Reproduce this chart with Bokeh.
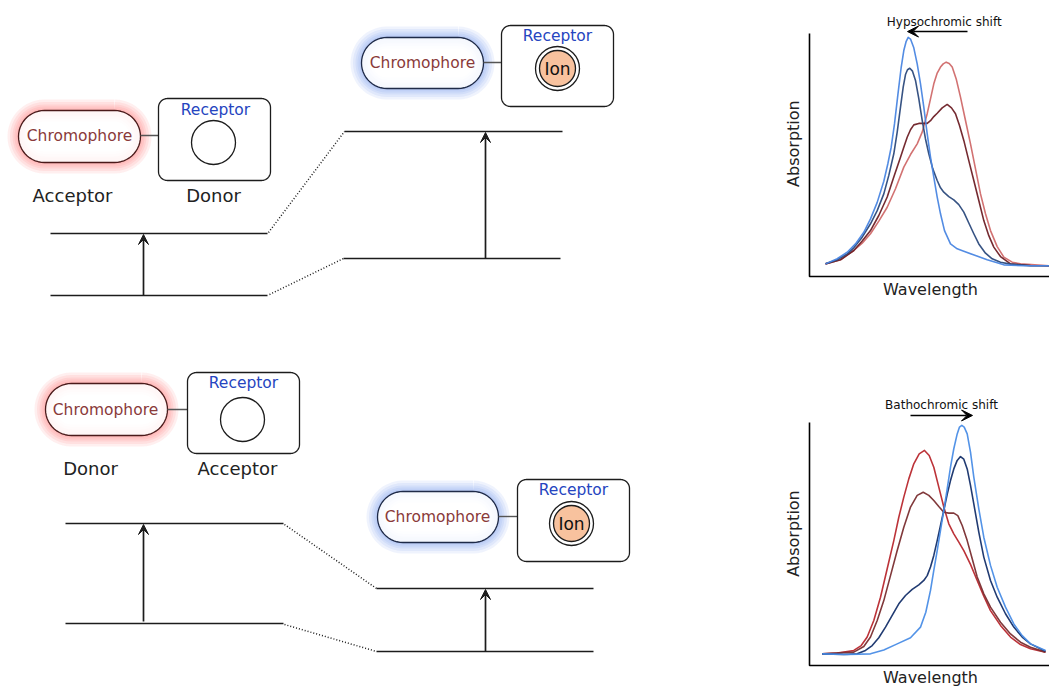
import numpy as np
from bokeh.plotting import figure
from bokeh.models import Range1d, Arrow, VeeHead
from bokeh.layouts import row, column
from bokeh.embed import file_html
from bokeh.resources import INLINE
from bokeh.core.properties import value

FONT = "DejaVu Sans"

# ---------------- data (texts) ----------------
chromophore_text = "Chromophore"
receptor_text = "Receptor"
ion_text = "Ion"
top_roles = ["Acceptor", "Donor"]
bottom_roles = ["Donor", "Acceptor"]
top_shift_title = "Hypsochromic shift"
bottom_shift_title = "Bathochromic shift"
x_title = "Wavelength"
y_title = "Absorption"

# ---------------- data (spectra, arbitrary units) ----------------
# top panel: hypsochromic shift
top_blue_wl = [16.0, 27.7, 37.7, 46.0, 54.3, 61.0, 67.7, 74.3, 78.3, 81.7, 85.0, 88.3, 91.7, 94.3, 96.7, 98.7,
               101.0, 104.3, 107.7, 111.0, 114.3, 117.7, 121.0, 124.3, 127.7, 131.0, 135.0, 141.0, 147.7,
               154.3, 166.0, 177.7, 194.3, 214.3, 240.0]
top_blue_abs = [0.052, 0.073, 0.100, 0.134, 0.182, 0.237, 0.305, 0.392, 0.463, 0.532, 0.628, 0.745, 0.861,
                0.930, 0.968, 0.984, 0.977, 0.941, 0.875, 0.793, 0.697, 0.587, 0.491, 0.409, 0.327, 0.258,
                0.189, 0.134, 0.114, 0.104, 0.086, 0.069, 0.048, 0.044, 0.044]
top_navy_wl = [16.0, 27.7, 37.7, 44.3, 52.7, 61.0, 67.7, 74.3, 79.3, 84.3, 87.7, 91.0, 93.7, 96.0, 98.0, 100.3,
               103.0, 106.0, 109.3, 112.7, 116.0, 119.3, 123.3, 127.7, 131.0, 134.3, 139.3, 144.3, 149.3,
               154.3, 159.3, 164.3, 169.3, 176.0, 182.7, 191.0, 201.0, 221.0, 240.0]
top_navy_abs = [0.052, 0.069, 0.093, 0.118, 0.162, 0.217, 0.271, 0.340, 0.416, 0.505, 0.594, 0.697, 0.779,
                0.831, 0.851, 0.857, 0.845, 0.807, 0.732, 0.643, 0.566, 0.505, 0.443, 0.395, 0.365, 0.347,
                0.329, 0.315, 0.296, 0.265, 0.220, 0.176, 0.134, 0.096, 0.073, 0.059, 0.051, 0.044, 0.044]
top_salmon_wl = [16.0, 31.0, 44.3, 52.7, 61.0, 69.3, 77.7, 86.0, 94.3, 101.0, 107.7, 112.7, 117.7, 121.0,
                 124.3, 127.7, 131.0, 133.7, 136.7, 139.7, 142.7, 146.7, 151.0, 156.0, 161.0, 166.0, 171.0,
                 176.0, 181.0, 187.7, 194.3, 202.7, 211.0, 240.0]
top_salmon_abs = [0.052, 0.069, 0.107, 0.137, 0.176, 0.228, 0.285, 0.361, 0.450, 0.502, 0.546, 0.594, 0.670,
                  0.731, 0.793, 0.837, 0.862, 0.875, 0.882, 0.877, 0.862, 0.813, 0.738, 0.642, 0.546, 0.443,
                  0.340, 0.258, 0.189, 0.123, 0.080, 0.059, 0.052, 0.044]
top_maroon_wl = [16.0, 31.0, 44.3, 52.7, 61.0, 69.3, 77.7, 84.3, 91.0, 94.3, 97.7, 101.0, 104.3, 109.3, 114.3,
                 117.7, 121.0, 124.3, 127.7, 132.7, 137.7, 142.0, 146.0, 150.0, 154.3, 159.3, 164.3, 169.3,
                 174.3, 179.3, 184.3, 191.0, 201.0, 221.0, 240.0]
top_maroon_abs = [0.052, 0.069, 0.107, 0.146, 0.189, 0.251, 0.327, 0.409, 0.491, 0.532, 0.573, 0.604, 0.624,
                  0.630, 0.630, 0.630, 0.641, 0.658, 0.672, 0.694, 0.708, 0.694, 0.670, 0.621, 0.560, 0.477,
                  0.395, 0.313, 0.230, 0.168, 0.121, 0.082, 0.052, 0.045, 0.044]

# bottom panel: bathochromic shift
bot_red_wl = [12.7, 27.7, 44.3, 51.7, 57.7, 64.3, 71.0, 77.7, 84.3, 89.3, 94.3, 99.3, 104.3, 109.7, 115.0,
              119.7, 124.3, 129.3, 134.3, 139.3, 144.3, 149.3, 154.3, 161.0, 167.7, 174.3, 181.0, 191.0,
              201.0, 211.0, 221.0, 236.0]
bot_red_abs = [0.048, 0.051, 0.062, 0.082, 0.117, 0.185, 0.281, 0.398, 0.514, 0.610, 0.693, 0.768, 0.830,
               0.871, 0.885, 0.864, 0.816, 0.734, 0.652, 0.583, 0.542, 0.508, 0.473, 0.416, 0.350, 0.285,
               0.226, 0.165, 0.117, 0.086, 0.069, 0.055]
bot_maroon_wl = [12.7, 44.3, 54.3, 61.0, 67.7, 74.3, 81.0, 87.7, 94.3, 101.0, 107.7, 113.7, 119.3, 124.3,
                 129.3, 134.3, 139.3, 144.3, 148.3, 152.7, 157.7, 162.7, 167.7, 174.3, 181.0, 191.0, 201.0,
                 211.0, 221.0, 236.0]
bot_maroon_abs = [0.048, 0.055, 0.078, 0.117, 0.185, 0.267, 0.370, 0.473, 0.569, 0.652, 0.700, 0.713, 0.700,
                  0.679, 0.654, 0.631, 0.627, 0.627, 0.617, 0.576, 0.514, 0.439, 0.364, 0.295, 0.240, 0.178,
                  0.130, 0.096, 0.075, 0.055]
bot_navy_wl = [12.7, 34.3, 47.7, 56.0, 62.7, 69.3, 76.0, 82.7, 89.3, 96.0, 102.7, 109.3, 114.3, 117.7, 121.0,
               124.3, 127.7, 131.0, 134.3, 137.7, 141.0, 144.3, 147.7, 151.0, 154.3, 157.7, 161.0, 164.3,
               169.3, 174.3, 181.0, 187.7, 196.0, 204.3, 212.7, 221.0, 236.0]
bot_navy_abs = [0.048, 0.045, 0.048, 0.062, 0.082, 0.114, 0.158, 0.206, 0.254, 0.288, 0.313, 0.332, 0.350,
                0.370, 0.405, 0.453, 0.514, 0.576, 0.638, 0.704, 0.761, 0.809, 0.844, 0.860, 0.849, 0.809,
                0.741, 0.665, 0.549, 0.446, 0.350, 0.281, 0.213, 0.158, 0.117, 0.089, 0.059]
bot_blue_wl = [12.7, 37.7, 61.0, 74.3, 87.7, 101.0, 111.0, 116.3, 121.0, 124.3, 127.7, 131.0, 134.3, 137.7,
               141.0, 144.3, 147.7, 150.0, 152.3, 154.7, 157.7, 161.0, 164.3, 169.3, 174.3, 181.0, 187.7,
               196.0, 204.3, 212.7, 221.0, 236.0]
bot_blue_abs = [0.048, 0.045, 0.048, 0.064, 0.089, 0.114, 0.158, 0.219, 0.309, 0.391, 0.473, 0.556, 0.638,
                0.727, 0.816, 0.892, 0.953, 0.981, 0.988, 0.981, 0.953, 0.878, 0.775, 0.645, 0.528, 0.412,
                0.322, 0.240, 0.171, 0.123, 0.089, 0.062]

# ---------------- styles ----------------
INK = "#1c1c1c"
CHROMO_TEXT = "#8a3a3a"
RECEPTOR_TEXT = "#2545c0"
ION_FILL = "#f8c29e"
RED_GLOW = "#ff4d4d"
BLUE_GLOW = "#4d7fe6"
RED_OUTLINE = "#4a1a1a"
BLUE_OUTLINE = "#1e2a48"

# ---------------- layout of the diagram (page pixels) ----------------
groups = [
    dict(pill=(18, 110, 140, 162), box=(158, 98, 270, 180), rec=(215, 109), circ=(213, 142),
         txt=(79, 135), ion=False, glow=RED_GLOW, outline=RED_OUTLINE),
    dict(pill=(361, 37, 483, 88), box=(501, 25, 613, 106), rec=(557, 35), circ=(557, 68),
         txt=(422, 62), ion=True, glow=BLUE_GLOW, outline=BLUE_OUTLINE),
    dict(pill=(45, 383, 167, 435), box=(187, 372, 299, 453), rec=(243, 382), circ=(242, 419),
         txt=(105, 409), ion=False, glow=RED_GLOW, outline=RED_OUTLINE),
    dict(pill=(377, 491, 498, 542), box=(517, 479, 629, 561), rec=(573, 489), circ=(571, 523),
         txt=(437, 516), ion=True, glow=BLUE_GLOW, outline=BLUE_OUTLINE),
]
role_pos_top = [(72, 195), (213, 195)]
role_pos_bot = [(90, 468), (237, 468)]

levels = [  # x0, x1, y
    (50, 267, 233), (50, 267, 295), (344, 562, 131), (343, 560, 258),
    (65, 283, 523), (65, 283, 623), (376, 593, 588), (376, 593, 651),
]
dotted = [
    ((268, 344), (232, 131)), ((269, 343), (294, 258)),
    ((284, 376), (524, 588)), ((284, 376), (624, 651)),
]
vert_arrows = [(143, 295, 234), (485, 258, 132), (143, 621, 524), (485, 651, 589)]

W_DIAG = 770
W_SPEC = 1049 - W_DIAG
H_TOTAL = 686
H_SPEC = H_TOTAL // 2


def rrect(x0, y0, x1, y1, r, n=14):
    pts = []
    corners = [(x1 - r, y0 + r, -90, 0), (x1 - r, y1 - r, 0, 90),
               (x0 + r, y1 - r, 90, 180), (x0 + r, y0 + r, 180, 270)]
    for cx, cy, a0, a1 in corners:
        for t in np.linspace(np.radians(a0), np.radians(a1), n):
            pts.append((cx + r * np.cos(t), cy + r * np.sin(t)))
    xs = [p[0] for p in pts]
    ys = [p[1] for p in pts]
    return xs + [xs[0]], ys + [ys[0]]


# ---------------- diagram figure ----------------
d = figure(width=W_DIAG, height=H_TOTAL, x_range=Range1d(0, W_DIAG), y_range=Range1d(H_TOTAL, 0),
           output_backend="svg", toolbar_location=None, x_axis_type=None, y_axis_type=None,
           min_border=0, outline_line_color=None)
d.grid.visible = False

for g in groups:
    x0, y0, x1, y1 = g["pill"]
    px, py = rrect(x0, y0, x1, y1, (y1 - y0) / 2.0)
    for w in (22, 17, 12, 8, 4):
        d.line(px, py, line_width=w, line_alpha=0.09, line_color=g["glow"], line_join="round")
    d.patch(px, py, fill_color="white", fill_alpha=0.85, line_color=g["outline"], line_width=1.3)
    cy = g["txt"][1]
    d.line([x1, g["box"][0]], [cy, cy], line_color="#555555", line_width=1.4)
    bx0, by0, bx1, by1 = g["box"]
    bxs, bys = rrect(bx0, by0, bx1, by1, 9)
    d.patch(bxs, bys, fill_color="white", line_color=INK, line_width=1.3)
    cx, ccy = g["circ"]
    if g["ion"]:
        d.scatter([cx], [ccy], marker="circle", size=44, fill_color="white", line_color=INK, line_width=1.3)
        d.scatter([cx], [ccy], marker="circle", size=36, fill_color=ION_FILL, line_color=INK, line_width=1.3)
        d.text([cx], [ccy], text=[ion_text], text_font=value(FONT), text_font_size="17px",
               text_align="center", text_baseline="middle", text_color="#111111")
    else:
        d.scatter([cx], [ccy], marker="circle", size=44, fill_color="white", line_color=INK, line_width=1.3)
    d.text([g["txt"][0]], [g["txt"][1]], text=[chromophore_text], text_font=value(FONT),
           text_font_size="15.5px", text_align="center", text_baseline="middle", text_color=CHROMO_TEXT)
    d.text([g["rec"][0]], [g["rec"][1]], text=[receptor_text], text_font=value(FONT),
           text_font_size="15.5px", text_align="center", text_baseline="middle", text_color=RECEPTOR_TEXT)

for (x, y), t in zip(role_pos_top + role_pos_bot, top_roles + bottom_roles):
    d.text([x], [y], text=[t], text_font=value(FONT), text_font_size="18px",
           text_align="center", text_baseline="middle", text_color="#222222")

for x0, x1, y in levels:
    d.line([x0, x1], [y, y], line_color=INK, line_width=1.7)
for xs, ys in dotted:
    d.line(list(xs), list(ys), line_color=INK, line_width=1.5, line_dash="1 2")
for x, ys, ye in vert_arrows:
    d.add_layout(Arrow(end=VeeHead(size=10, fill_color=INK, line_color=INK, line_width=1),
                       x_start=x, y_start=ys, x_end=x, y_end=ye, line_color=INK, line_width=1.7))


# ---------------- spectra figures ----------------
# x: 1 unit = 1 px, wavelength origin 39 px from the figure's left edge
# y: 1 unit = 243 px, origin at the panel's baseline
def spectrum(base_px, curves, title, title_xy, arrow_x, arrow_y, ylab_y, xlab_y):
    y_lo = -(H_SPEC - base_px) / 243.0
    y_hi = base_px / 243.0
    p = figure(width=W_SPEC, height=H_SPEC, x_range=Range1d(-39, W_SPEC - 39),
               y_range=Range1d(y_lo, y_hi), output_backend="svg", toolbar_location=None,
               x_axis_type=None, y_axis_type=None, min_border=0, outline_line_color=None)
    p.grid.visible = False
    p.line([0, 0, W_SPEC], [1.0, 0, 0], line_color="black", line_width=1.6)
    for wl, ab, col in curves:
        p.line(wl, ab, line_color=col, line_width=1.6, line_alpha=0.95, line_join="round")
    p.text([-16], [ylab_y], text=[y_title], angle=np.pi / 2, text_align="center",
           text_baseline="middle", text_font=value(FONT), text_font_size="16px", text_color="#222222")
    p.text([121], [xlab_y], text=[x_title], text_align="center",
           text_baseline="middle", text_font=value(FONT), text_font_size="16px", text_color="#222222")
    p.text([title_xy[0]], [title_xy[1]], text=[title], text_align="center",
           text_baseline="middle", text_font=value(FONT), text_font_size="12px", text_color="#111111")
    p.add_layout(Arrow(end=VeeHead(size=11, fill_color="black", line_color="black", line_width=1),
                       x_start=arrow_x[0], y_start=arrow_y, x_end=arrow_x[1], y_end=arrow_y,
                       line_color="black", line_width=1.6))
    return p


top = spectrum(276,
               [(top_salmon_wl, top_salmon_abs, "#d06a6a"), (top_maroon_wl, top_maroon_abs, "#6e2026"),
                (top_navy_wl, top_navy_abs, "#2c4a7c"), (top_blue_wl, top_blue_abs, "#4a86e2")],
               top_shift_title, (134.7, 1.049), (158, 98), 1.008, 0.547, -0.0535)
bot = spectrum(665 - H_SPEC,
               [(bot_red_wl, bot_red_abs, "#b8282e"), (bot_maroon_wl, bot_maroon_abs, "#7a2e30"),
                (bot_navy_wl, bot_navy_abs, "#15306a"), (bot_blue_wl, bot_blue_abs, "#4a8de6")],
               bottom_shift_title, (132, 1.070), (101, 163), 1.029, 0.543, -0.0494)

layout = row(d, column(top, bot))
open("out.html", "w").write(file_html(layout, INLINE))
